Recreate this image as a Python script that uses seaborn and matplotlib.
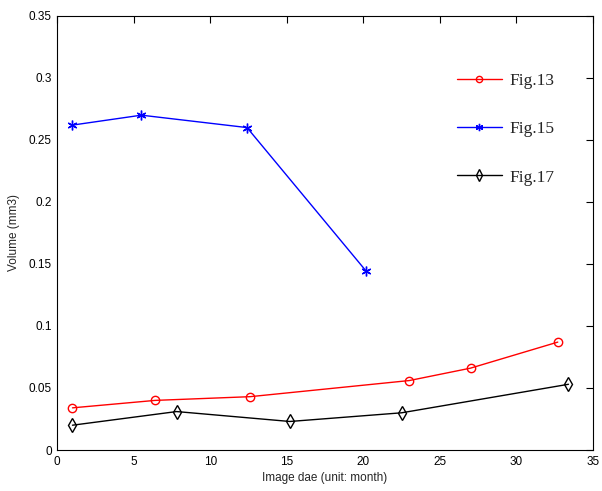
import matplotlib
matplotlib.use("Agg")
import matplotlib.pyplot as plt
import seaborn as sns
import pandas as pd

# Data
fig13_x = [1.0, 6.4, 12.6, 23.0, 27.0, 32.7]
fig13_y = [0.034, 0.040, 0.043, 0.056, 0.066, 0.087]
fig15_x = [1.0, 5.5, 12.4, 20.2]
fig15_y = [0.262, 0.270, 0.260, 0.144]
fig17_x = [1.0, 7.8, 15.2, 22.5, 33.4]
fig17_y = [0.020, 0.031, 0.023, 0.030, 0.053]

series_names = ["Fig.13", "Fig.15", "Fig.17"]
x_ticks = [0, 5, 10, 15, 20, 25, 30, 35]
y_ticks = [0, 0.05, 0.1, 0.15, 0.2, 0.25, 0.3, 0.35]
y_tick_labels = ["0", "0.05", "0.1", "0.15", "0.2", "0.25", "0.3", "0.35"]

sns.set_theme(style="white")
plt.rcParams['font.family'] = ['Liberation Sans', 'DejaVu Sans']

fig = plt.figure(figsize=(6.02, 4.91), dpi=100)
ax = fig.add_axes([0.095, 0.0835, 0.89, 0.884])

styles = [
    (fig13_x, fig13_y, "red", "o", 6),
    (fig15_x, fig15_y, "blue", (6, 2, 0), 7),
    (fig17_x, fig17_y, "black", "d", 7.5),
]
for name, (xs, ys, col, mk, ms) in zip(series_names, styles):
    df = pd.DataFrame({"x": xs, "y": ys})
    sns.lineplot(data=df, x="x", y="y", ax=ax, color=col, marker=mk,
                 markersize=ms, markerfacecolor="none", markeredgecolor=col,
                 markeredgewidth=1.0, linewidth=1.0, label=name, sort=False)

ax.set_xlim(0, 35)
ax.set_ylim(0, 0.35)
ax.set_xticks(x_ticks)
ax.set_yticks(y_ticks)
ax.set_yticklabels(y_tick_labels)
ax.tick_params(direction="in", length=5, width=0.8, top=True, right=True,
               labelsize=8.5, colors="black", pad=4)
for s in ax.spines.values():
    s.set_color("black")
    s.set_linewidth(0.8)
ax.set_xlabel("Image dae (unit: month)", fontsize=8.5, labelpad=3)
ax.set_ylabel("Volume (mm3)", fontsize=8.5, labelpad=6)

leg = ax.legend(loc="upper right", bbox_to_anchor=(0.958, 0.905), frameon=False,
                prop={"family": "Liberation Serif", "size": 12.5},
                labelspacing=1.85, handlelength=2.6, handletextpad=0.45,
                markerscale=0.75)

fig.savefig("out.png", dpi=100)
